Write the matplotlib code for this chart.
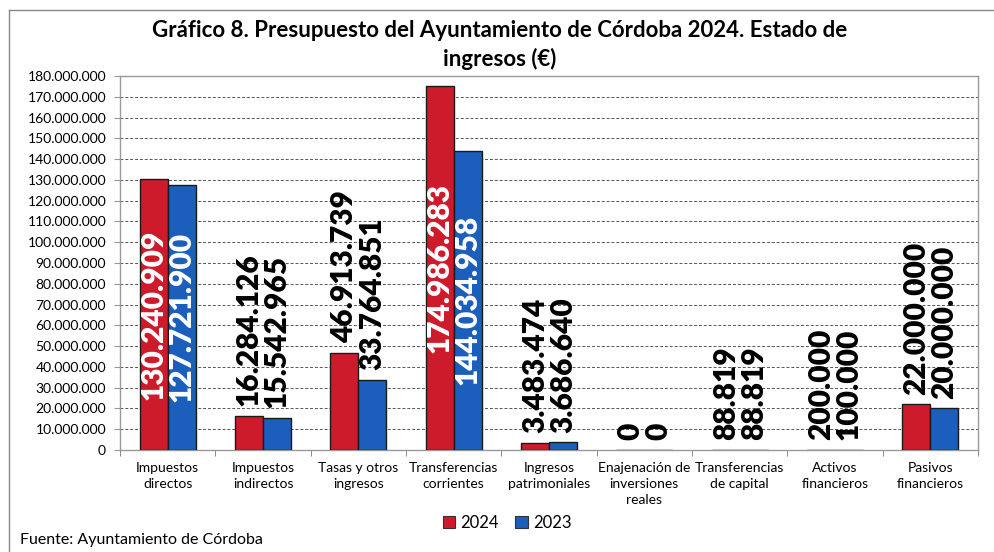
import matplotlib
matplotlib.use("Agg")
import matplotlib.pyplot as plt
from matplotlib.lines import Line2D
from matplotlib.patches import Patch
import numpy as np

categories = ["Impuestos\ndirectos", "Impuestos\nindirectos", "Tasas y otros\ningresos",
              "Transferencias\ncorrientes", "Ingresos\npatrimoniales",
              "Enajenación de\ninversiones\nreales", "Transferencias\nde capital",
              "Activos\nfinancieros", "Pasivos\nfinancieros"]
values_2024 = [130240909, 16284126, 46913739, 174986283, 3483474, 0, 88819, 200000, 22000000]
values_2023 = [127721900, 15542965, 33764851, 144034958, 3686640, 0, 88819, 100000, 20000000]
series_names = ["2024", "2023"]
yticks = list(range(0, 180000001, 10000000))

RED = "#CE1B2C"
BLUE = "#1B5EBB"
FONT = ["Lato", "DejaVu Sans"]
plt.rcParams["font.family"] = FONT

def fmt(v):
    return f"{v:,}".replace(",", ".")

fig = plt.figure(figsize=(9.94, 5.52), dpi=100)
ax = fig.add_axes([120/994, 1-450/552, 858/994, 374/552])

x = np.arange(len(categories))
w = 0.294
b1 = ax.bar(x - w/2, values_2024, w, color=RED, edgecolor="#1a1a1a", linewidth=1.0, zorder=3)
b2 = ax.bar(x + w/2, values_2023, w, color=BLUE, edgecolor="#1a1a1a", linewidth=1.0, zorder=3)

ax.set_xlim(-0.5, len(categories) - 0.5)
ax.set_ylim(0, 180000000)
ax.set_yticks(yticks)
ax.set_yticklabels([fmt(v) for v in yticks], fontsize=10, color="#000000")
ax.set_xticks(x)
ax.set_xticklabels(categories, fontsize=10, color="#000000", linespacing=1.4)
ax.tick_params(axis="x", which="major", length=0, pad=9)
ax.set_xticks(np.arange(-0.5, len(categories), 1), minor=True)
ax.tick_params(axis="x", which="minor", length=4, color="#777777", direction="out")
ax.tick_params(axis="y", length=4, color="#999999", pad=6)

ax.grid(axis="y", linestyle=(0, (3, 2)), color="#555555", linewidth=0.7, zorder=0)
for s in ["top", "right", "left", "bottom"]:
    ax.spines[s].set_color("#999999")
    ax.spines[s].set_linewidth(1.0)

threshold = 100000000
for bars, vals in ((b1, values_2024), (b2, values_2023)):
    for rect, v in zip(bars, vals):
        cx = rect.get_x() + rect.get_width() / 2
        if v > threshold:
            ax.text(cx, v / 2, fmt(v), rotation=90, ha="center", va="center",
                    fontsize=21.5, color="white", fontweight="heavy", zorder=5)
        else:
            ax.annotate(fmt(v), (cx, v), xytext=(0, 7), textcoords="offset points",
                        rotation=90, ha="center", va="bottom", fontsize=21.5,
                        color="#000000", fontweight="heavy", zorder=5)

fig.text(500/994, 1-45/552,
         "Gráfico 8. Presupuesto del Ayuntamiento de Córdoba 2024. Estado de\ningresos (€)",
         ha="center", va="center", fontsize=16, fontweight="bold", linespacing=1.35,
         color="#000000")

handles = [Patch(facecolor=RED, edgecolor="#333333", linewidth=0.8),
           Patch(facecolor=BLUE, edgecolor="#333333", linewidth=0.8)]
fig.legend(handles, series_names, loc="center", bbox_to_anchor=(507/994, 1-523/552),
           ncol=2, frameon=False, fontsize=12, handlelength=0.75, handleheight=0.75,
           handletextpad=0.3, columnspacing=1.0)

fig.text(20/994, 1-540/552, "Fuente: Ayuntamiento de Córdoba", ha="left", va="center",
         fontsize=11.5, color="#000000")

fig.add_artist(Line2D([9/994, 9/994], [0, 1-10/552], transform=fig.transFigure,
                      color="#888888", linewidth=1.0))
fig.add_artist(Line2D([9/994, 1], [1-10/552, 1-10/552], transform=fig.transFigure,
                      color="#888888", linewidth=1.0))

fig.savefig("out.png", dpi=100)
